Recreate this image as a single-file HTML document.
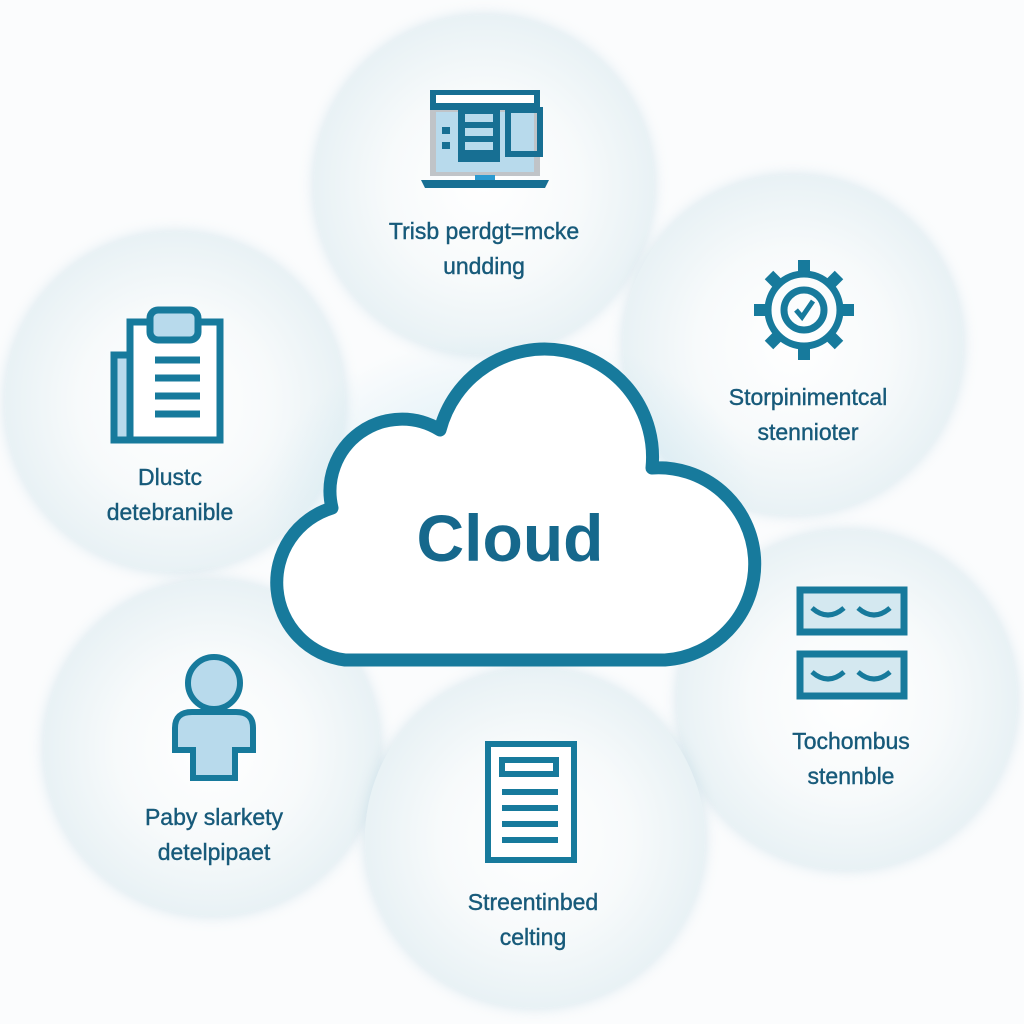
<!DOCTYPE html>
<html><head><meta charset="utf-8"><style>
html,body{margin:0;padding:0;background:#fbfcfd;}
.wrap{position:relative;width:1024px;height:1024px;overflow:hidden;font-family:"Liberation Sans","DejaVu Sans",sans-serif;}
.c{position:absolute;border-radius:50%;background:radial-gradient(circle at 50% 50%,#ffffff 0%,#f7fafb 40%,#e4eff3 80%,#d3e5eb 97%,rgba(220,234,239,0.4) 100%);box-shadow:0 0 14px rgba(170,205,218,0.45);}
.t{position:absolute;width:300px;text-align:center;color:#175a7a;font-size:23px;line-height:35px;-webkit-text-stroke:0.4px #175a7a;}
</style></head><body><div class="wrap">
<div class="c" style="left:314px;top:15px;width:340px;height:340px"></div>
<div class="c" style="left:623px;top:175px;width:340px;height:340px"></div>
<div class="c" style="left:5px;top:232px;width:340px;height:340px"></div>
<div class="c" style="left:677px;top:530px;width:340px;height:340px"></div>
<div class="c" style="left:44px;top:580px;width:336px;height:336px"></div>
<div class="c" style="left:365px;top:668px;width:340px;height:340px"></div>
<div style="position:absolute;left:260px;top:330px;width:500px;height:350px;border-radius:50%;background:radial-gradient(ellipse,rgba(190,225,238,0.7),rgba(255,255,255,0) 70%)"></div>
<svg style="position:absolute;left:0;top:0" width="1024" height="1024">
<path d="M345 660 A78 78 0 0 1 332 508 A72 72 0 0 1 440 430 A108 108 0 0 1 652 468 A95 95 0 0 1 665 660 Z" fill="#fff" stroke="#177a9c" stroke-width="13" stroke-linejoin="round"/>
<rect x="430" y="90" width="110" height="86" fill="#c0c4c8"/>
<rect x="430" y="90" width="110" height="20" fill="#176f93"/>
<rect x="436" y="95" width="98" height="8" fill="#fff"/>
<rect x="436" y="112" width="98" height="60" fill="#b8daec"/>
<rect x="458" y="110" width="42" height="52" fill="#176f93"/><rect x="465" y="114" width="28" height="8" fill="#b8daec"/><rect x="465" y="128" width="28" height="8" fill="#b8daec"/><rect x="465" y="142" width="28" height="8" fill="#b8daec"/>
<rect x="442" y="127" width="8" height="7" fill="#176f93"/><rect x="442" y="142" width="8" height="7" fill="#176f93"/>
<rect x="508" y="110" width="32" height="44" fill="none" stroke="#176f93" stroke-width="6"/>
<path d="M421 180 L549 180 L545 188 L425 188 Z" fill="#176f93"/><rect x="475" y="175" width="20" height="5" fill="#2a9ad0"/>
<g transform="translate(804,310)" fill="none" stroke="#177a9c" stroke-width="7">
<circle r="36"/><circle r="20"/>
<g stroke-width="12"><line x1="0" y1="-36" x2="0" y2="-50"/><line x1="0" y1="36" x2="0" y2="50"/><line x1="-36" y1="0" x2="-50" y2="0"/><line x1="36" y1="0" x2="50" y2="0"/><line x1="25" y1="25" x2="35" y2="35"/><line x1="-25" y1="25" x2="-35" y2="35"/><line x1="25" y1="-25" x2="35" y2="-35"/><line x1="-25" y1="-25" x2="-35" y2="-35"/></g>
<path d="M-8 0 L-2 7 L9 -9" stroke-width="5"/></g>
<g fill="none" stroke="#177a9c" stroke-width="7">
<rect x="114" y="355" width="20" height="85" fill="#b8daec"/>
<rect x="130" y="322" width="90" height="118" fill="#fff"/>
<rect x="150" y="310" width="48" height="30" rx="8" fill="#b8daec"/>
<line x1="155" y1="360" x2="200" y2="360"/><line x1="155" y1="378" x2="200" y2="378"/><line x1="155" y1="396" x2="200" y2="396"/><line x1="155" y1="414" x2="200" y2="414"/></g>
<g fill="#b8daec" stroke="#177a9c" stroke-width="6"><circle cx="214" cy="683" r="26"/><path d="M175 728 Q175 712 192 712 L236 712 Q253 712 253 728 L253 750 L235 750 L235 778 L193 778 L193 750 L175 750 Z"/></g>
<g fill="none" stroke="#177a9c" stroke-width="7"><rect x="800" y="590" width="104" height="42" fill="#d4e8f0"/><rect x="800" y="654" width="104" height="42" fill="#d4e8f0"/>
<path d="M812 608 Q828 622 844 608 M858 608 Q874 622 890 608 M812 672 Q828 686 844 672 M858 672 Q874 686 890 672" stroke-width="5"/></g>
<g fill="none" stroke="#177a9c" stroke-width="6"><rect x="488" y="744" width="86" height="116" fill="#fff"/><rect x="502" y="760" width="54" height="14"/>
<line x1="502" y1="792" x2="558" y2="792"/><line x1="502" y1="808" x2="558" y2="808"/><line x1="502" y1="824" x2="558" y2="824"/><line x1="502" y1="840" x2="558" y2="840"/></g>
<text x="510" y="561" text-anchor="middle" font-family="Liberation Sans, sans-serif" font-weight="bold" font-size="66" fill="#16688c">Cloud</text>
</svg>
<div class="t" style="left:334px;top:214px">Trisb perdgt=mcke<br>undding</div>
<div class="t" style="left:658px;top:380px">Storpinimentcal<br>stennioter</div>
<div class="t" style="left:20px;top:460px">Dlustc<br>detebranible</div>
<div class="t" style="left:701px;top:724px">Tochombus<br>stennble</div>
<div class="t" style="left:64px;top:800px">Paby slarkety<br>detelpipaet</div>
<div class="t" style="left:383px;top:885px">Streentinbed<br>celting</div>
</div></body></html>
